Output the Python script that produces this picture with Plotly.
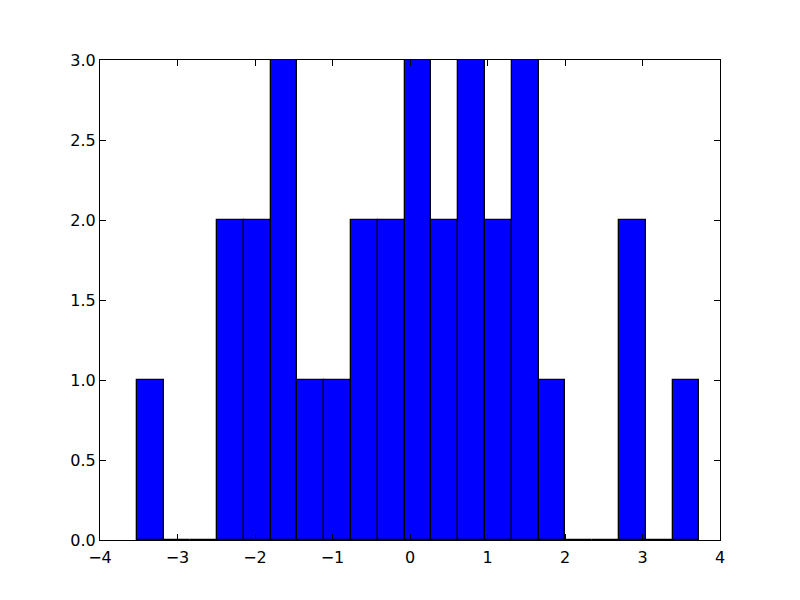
import plotly.graph_objects as go

# Histogram data
bin_start = -3.526
bin_width = 0.3457
counts = [1, 0, 0, 2, 2, 3, 1, 1, 2, 2, 3, 2, 3, 2, 3, 1, 0, 0, 2, 0, 1]
x_ticks = [-4, -3, -2, -1, 0, 1, 2, 3, 4]
y_ticks = [0.0, 0.5, 1.0, 1.5, 2.0, 2.5, 3.0]

centers = [bin_start + bin_width * (i + 0.5) for i in range(len(counts))]

fig = go.Figure(go.Bar(
    x=centers, y=counts, width=bin_width,
    marker=dict(color="#0000ff", line=dict(color="black", width=1.3)),
))

axis_common = dict(
    showline=True, linecolor="black", linewidth=1, mirror="ticks",
    ticks="inside", ticklen=6, tickcolor="black", tickwidth=1,
    showgrid=False, zeroline=False,
    tickfont=dict(family="DejaVu Sans", size=16, color="black"),
)

fig.update_layout(
    width=800, height=600,
    margin=dict(l=92, r=88, t=52, b=68),
    paper_bgcolor="white", plot_bgcolor="white",
    showlegend=False,
    bargap=0,
    xaxis=dict(range=[-4, 4], tickvals=x_ticks, ticklabelstandoff=3, **axis_common),
    yaxis=dict(range=[0, 3], tickvals=y_ticks, tickformat=".1f", **axis_common),
)

fig.write_html("out.html")
